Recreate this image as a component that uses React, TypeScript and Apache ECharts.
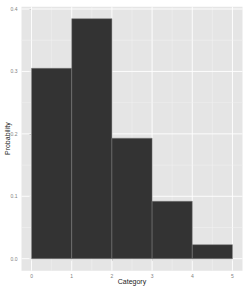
import React, { useEffect, useRef } from "react";
import * as echarts from "echarts";

const binStarts = [0, 1, 2, 3, 4];
const binWidth = 1;
const probabilities = [0.305, 0.3845, 0.193, 0.092, 0.0225];
const xTicks = [0, 1, 2, 3, 4, 5];
const yTicks = [0, 0.1, 0.2, 0.3, 0.4];
const xMinorGrid = [0.5, 1.5, 2.5, 3.5, 4.5];
const yMinorGrid = [0.05, 0.15, 0.25, 0.35];

export default function App() {
  const ref = useRef<HTMLDivElement>(null);
  useEffect(() => {
    if (!ref.current) return;
    const chart = echarts.init(ref.current, null, { renderer: "svg" });
    const gridData: any[] = [];
    xTicks.forEach((v) => gridData.push([v, 0, 1]));
    xMinorGrid.forEach((v) => gridData.push([v, 0, 0]));
    yTicks.forEach((v) => gridData.push([v, 1, 1]));
    yMinorGrid.forEach((v) => gridData.push([v, 1, 0]));
    const xMin = -0.25;
    const xMax = 5.25;
    const yMin = -0.0192;
    const yMax = 0.4037;
    chart.setOption({
      animation: false,
      backgroundColor: "#ffffff",
      grid: {
        left: 21.5,
        right: 6.5,
        top: 6.7,
        bottom: 18.3,
        show: true,
        backgroundColor: "#E5E5E5",
        borderWidth: 0,
        containLabel: false,
        outerBoundsMode: "none",
      },
      xAxis: {
        type: "value",
        min: xMin,
        max: xMax,
        name: "Category",
        nameLocation: "middle",
        nameGap: 7.5,
        nameMoveOverlap: false,
        nameTextStyle: { fontSize: 7, color: "#1a1a1a", fontFamily: "Liberation Sans", verticalAlign: "top" },
        axisLine: { show: false },
        splitLine: { show: false },
        axisTick: { show: true, customValues: xTicks, length: 2, lineStyle: { color: "#7f7f7f", width: 0.6 } },
        axisLabel: {
          customValues: xTicks,
          fontSize: 5,
          color: "#7f7f7f",
          margin: 3,
          fontFamily: "Liberation Sans",
          formatter: (v: number) => String(v),
        },
      },
      yAxis: {
        type: "value",
        min: yMin,
        max: yMax,
        name: "Probability",
        nameLocation: "middle",
        nameGap: 11,
        nameRotate: 90,
        nameMoveOverlap: false,
        nameTextStyle: { fontSize: 7, color: "#1a1a1a", fontFamily: "Liberation Sans" },
        axisLine: { show: false },
        splitLine: { show: false },
        axisTick: { show: true, customValues: yTicks, length: 2, lineStyle: { color: "#7f7f7f", width: 0.6 } },
        axisLabel: {
          customValues: yTicks,
          fontSize: 5,
          color: "#7f7f7f",
          margin: 4,
          fontFamily: "Liberation Sans",
          formatter: (v: number) => v.toFixed(1),
        },
      },
      series: [
        {
          type: "custom",
          silent: true,
          z: 1,
          data: gridData,
          renderItem: (params: any, api: any) => {
            const v = api.value(0);
            const dir = api.value(1);
            const major = api.value(2);
            const cs = params.coordSys;
            let x1, y1, x2, y2;
            if (dir === 0) {
              const p = api.coord([v, 0]);
              x1 = p[0]; x2 = p[0]; y1 = cs.y; y2 = cs.y + cs.height;
            } else {
              const p = api.coord([0, v]);
              y1 = p[1]; y2 = p[1]; x1 = cs.x; x2 = cs.x + cs.width;
            }
            return {
              type: "line",
              shape: { x1, y1, x2, y2 },
              style: { stroke: major ? "#ffffff" : "#F2F2F2", lineWidth: major ? 0.9 : 0.5 },
            };
          },
        },
        {
          type: "custom",
          z: 2,
          data: binStarts.map((s, i) => [s, s + binWidth, probabilities[i]]),
          renderItem: (params: any, api: any) => {
            const p0 = api.coord([api.value(0), 0]);
            const p1 = api.coord([api.value(1), api.value(2)]);
            return {
              type: "rect",
              shape: { x: p0[0], y: p1[1], width: p1[0] - p0[0], height: p0[1] - p1[1] },
              style: { fill: "#333333", stroke: "#7a7a7a", lineWidth: 0.5 },
            };
          },
        },
      ],
    });
    return () => chart.dispose();
  }, []);
  return <div ref={ref} style={{ position: "fixed", left: 0, top: 0, width: 249, height: 289 }} />;
}
